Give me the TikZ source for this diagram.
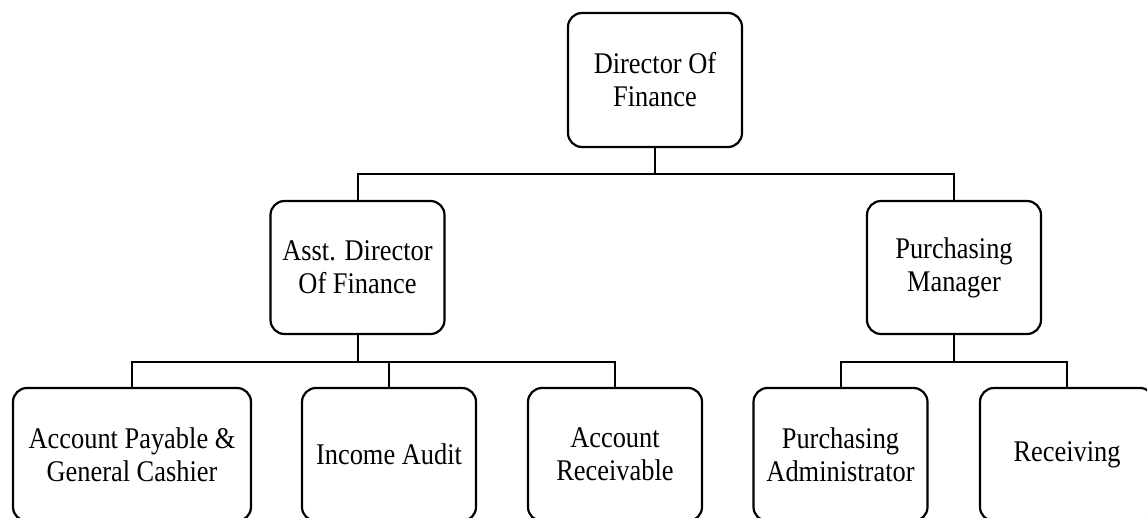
\documentclass[tikz,border=0pt]{standalone}
\usepackage{fontspec}
\setmainfont{Liberation Serif}[FakeStretch=0.88]
\begin{document}
\begin{tikzpicture}[x=1pt,y=-1pt,
  box/.style={draw=black,line width=2.2pt,rounded corners=14pt,fill=white,
    minimum height=133pt,align=center,inner sep=0pt,
    font=\fontsize{30}{33}\selectfont},
  w174/.style={minimum width=174pt},
  link/.style={draw=black,line width=2pt}]
\useasboundingbox (0,0) rectangle (1147,518);
\clip (0,0) rectangle (1147,518);
\fill[white] (0,0) rectangle (1147,518);
\node[box,w174,minimum height=134pt] (dir) at (655,80) {Director Of\\Finance};
\node[box,w174] (asst) at (357.5,267.5) {Asst. Director\\Of Finance};
\node[box,w174] (pm) at (954,267.5) {Purchasing\\Manager};
\node[box,minimum width=238pt] (ap) at (132,454.5) {Account Payable \&\\General Cashier};
\node[box,w174] (ia) at (389,454.5) {Income Audit};
\node[box,w174] (ar) at (615,454.5) {Account\\Receivable};
\node[box,w174] (pa) at (840.5,454.5) {Purchasing\\Administrator};
\node[box,w174] (rc) at (1067,454.5) {Receiving};
\path (dir.south) ++(0,26) coordinate (d1);
\path (asst.south) ++(0,27) coordinate (a1);
\path (pm.south) ++(0,27) coordinate (p1);
\draw[link] (dir.south) -- (d1);
\draw[link] (d1) -| (asst.north);
\draw[link] (d1) -| (pm.north);
\draw[link] (asst.south) -- (a1);
\draw[link] (a1) -| (ap.north);
\draw[link] (a1) -| (ia.north);
\draw[link] (a1) -| (ar.north);
\draw[link] (pm.south) -- (p1);
\draw[link] (p1) -| (pa.north);
\draw[link] (p1) -| (rc.north);
\end{tikzpicture}
\end{document}
